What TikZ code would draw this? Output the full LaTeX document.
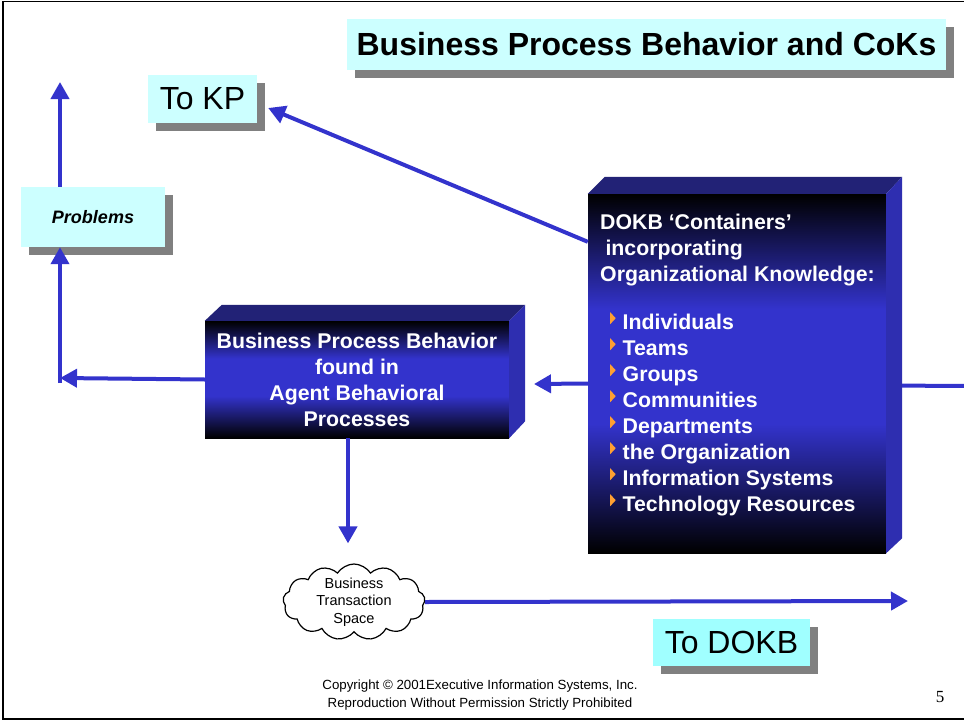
\documentclass[tikz,border=0pt]{standalone}
\usepackage{fontspec}
\setmainfont{Liberation Sans}
\newfontfamily\pagefont{Liberation Serif}
\usetikzlibrary{shadows, calc, shapes.symbols, arrows.meta, positioning}

\definecolor{boxcyan}{RGB}{204,255,255}
\definecolor{dokbcyan}{RGB}{160,255,255}
\definecolor{shadowgray}{RGB}{128,128,128}
\definecolor{flowblue}{RGB}{51,51,204}
\definecolor{topnavy}{RGB}{34,34,118}
\definecolor{sidenavy}{RGB}{46,46,176}
\definecolor{bulorange}{RGB}{255,160,50}

% dark - blue - dark fade of the box fronts (path runs from 25bp to 75bp)
\pgfdeclareverticalshading{boxfade}{100bp}{color(0bp)=(black); color(25bp)=(black); color(43bp)=(flowblue); color(59bp)=(flowblue); color(75bp)=(black); color(100bp)=(black)}

% small orange bullet of the list
\newcommand{\tribul}{\tikz[baseline=0pt]\fill[bulorange] (0pt,5pt) -- (0pt,17pt) -- (5.5pt,11pt) -- cycle;}

\tikzset{
  cyanbox/.style={fill=boxcyan, inner sep=0pt, general shadow={fill=shadowgray, shadow xshift=8pt, shadow yshift=-8pt}},
  flow/.style={draw=flowblue, line width=4pt, -{Triangle[length=17pt, width=18pt]}},
  flowline/.style={draw=flowblue, line width=4pt},
  frontface/.style={shading=boxfade, inner sep=0pt},
  whitetext/.style={text=white, font=\bfseries\fontsize{21.3}{26}\selectfont, inner sep=0pt}
}

\begin{document}
\begin{tikzpicture}[x=1pt, y=-1pt]
  \useasboundingbox (0,0) rectangle (964,723);
  % page frame
  \draw[line width=1.5pt] (964,1.5) -- (3,1.5) -- (3,719) -- (964,719);

  % Title and labels
  \node[cyanbox, minimum width=599pt, minimum height=51pt, font=\bfseries\fontsize{32}{36}\selectfont] (title) at (646.5,44.5) {Business Process Behavior and CoKs};
  \node[cyanbox, minimum width=109pt, minimum height=48pt, font=\fontsize{32}{38}\selectfont] (tokp) at (202.5,99) {To KP};
  \node[cyanbox, minimum width=144pt, minimum height=60pt, font=\bfseries\itshape\fontsize{18}{22}\selectfont] (problems) at (93,217) {Problems};
  \node[cyanbox, fill=dokbcyan, minimum width=157pt, minimum height=47pt, font=\fontsize{32}{38}\selectfont] (todokb) at (731.5,642.5) {To DOKB};

  % Box fronts
  \node[frontface, minimum width=304pt, minimum height=117pt] (agent) at (357,379.5) {};
  \node[frontface, minimum width=298pt, minimum height=359pt] (dokb) at (737,373.5) {};

  % Free ends
  \coordinate (corner) at (60,378);
  \coordinate (upend) at (60,82);
  \coordinate (agentin) at (534,384);
  \coordinate (offpage) at (966,386);
  \coordinate (dokbout) at (908,601);

  % line leaving to the right (under the side face)
  \draw[flowline] ([yshift=-12pt]dokb.east) -- (offpage);

  % Box tops and sides
  \fill[topnavy] (agent.north west) -- ++(17,-16) -- ($(agent.north east)+(16,-16)$) -- (agent.north east) -- cycle;
  \fill[sidenavy] (agent.north east) -- ++(16,-16) -- ($(agent.south east)+(16,-17)$) -- (agent.south east) -- cycle;
  \fill[topnavy] (dokb.north west) -- ++(17,-17) -- ($(dokb.north east)+(16,-17)$) -- (dokb.north east) -- cycle;
  \fill[sidenavy] (dokb.north east) -- ++(16,-17) -- ($(dokb.south east)+(16,-15)$) -- (dokb.south east) -- cycle;

  % Box texts
  \node[whitetext, align=center] (agenttext) at (agent.center) {Business Process Behavior\\found in\\Agent Behavioral\\Processes};
  \node[whitetext, align=left, anchor=north west] (dokbhead) at (600,214) {DOKB ‘Containers’\\\hspace{0.25em}incorporating\\Organizational Knowledge:};
  \node[whitetext, align=left, anchor=north west] (dokbitems) at (610,312) {\tribul\hspace{7pt}Individuals\\
    \tribul\hspace{7pt}Teams\\
    \tribul\hspace{7pt}Groups\\
    \tribul\hspace{7pt}Communities\\
    \tribul\hspace{7pt}Departments\\
    \tribul\hspace{7pt}the Organization\\
    \tribul\hspace{7pt}Information Systems\\
    \tribul\hspace{7pt}Technology Resources};

  % Cloud
  \node[cloud, draw=black, line width=1.2pt, fill=white, cloud puffs=13, cloud puff arc=115, cloud ignores aspect,
        minimum width=142pt, minimum height=76pt, inner sep=0pt] (cloud) at (354,602) {};
  \node[align=center, inner sep=0pt, font=\fontsize{14.5}{17.5}\selectfont] (cloudtext) at (cloud.center) {Business\\Transaction\\Space};

  % Connectors
  \draw[flow] (agent.west) -- (corner);
  \draw[flow] ([yshift=-5pt]corner) -- (problems.south -| corner);
  \draw[flow] (problems.north -| corner) -- (upend);
  \draw[flow] ([yshift=-48pt]dokb.north west) -- ([xshift=11pt, yshift=-9pt]tokp.east);
  \draw[flow] ([yshift=-10pt]dokb.west) -- (agentin);
  \draw[flow] ([xshift=-9pt]agent.south) -- ([xshift=-6pt, yshift=20pt]cloud.north);
  \draw[flow] (cloud.east) -- (dokbout);

  % Footer
  \node[font=\fontsize{13.3}{18}\selectfont, align=center] (footer) at (480,695) {Copyright © 2001Executive Information Systems, Inc.\\Reproduction Without Permission Strictly Prohibited};
  \node[font=\pagefont\fontsize{17}{20}\selectfont] (pagenum) at (940,697) {5};
\end{tikzpicture}
\end{document}
